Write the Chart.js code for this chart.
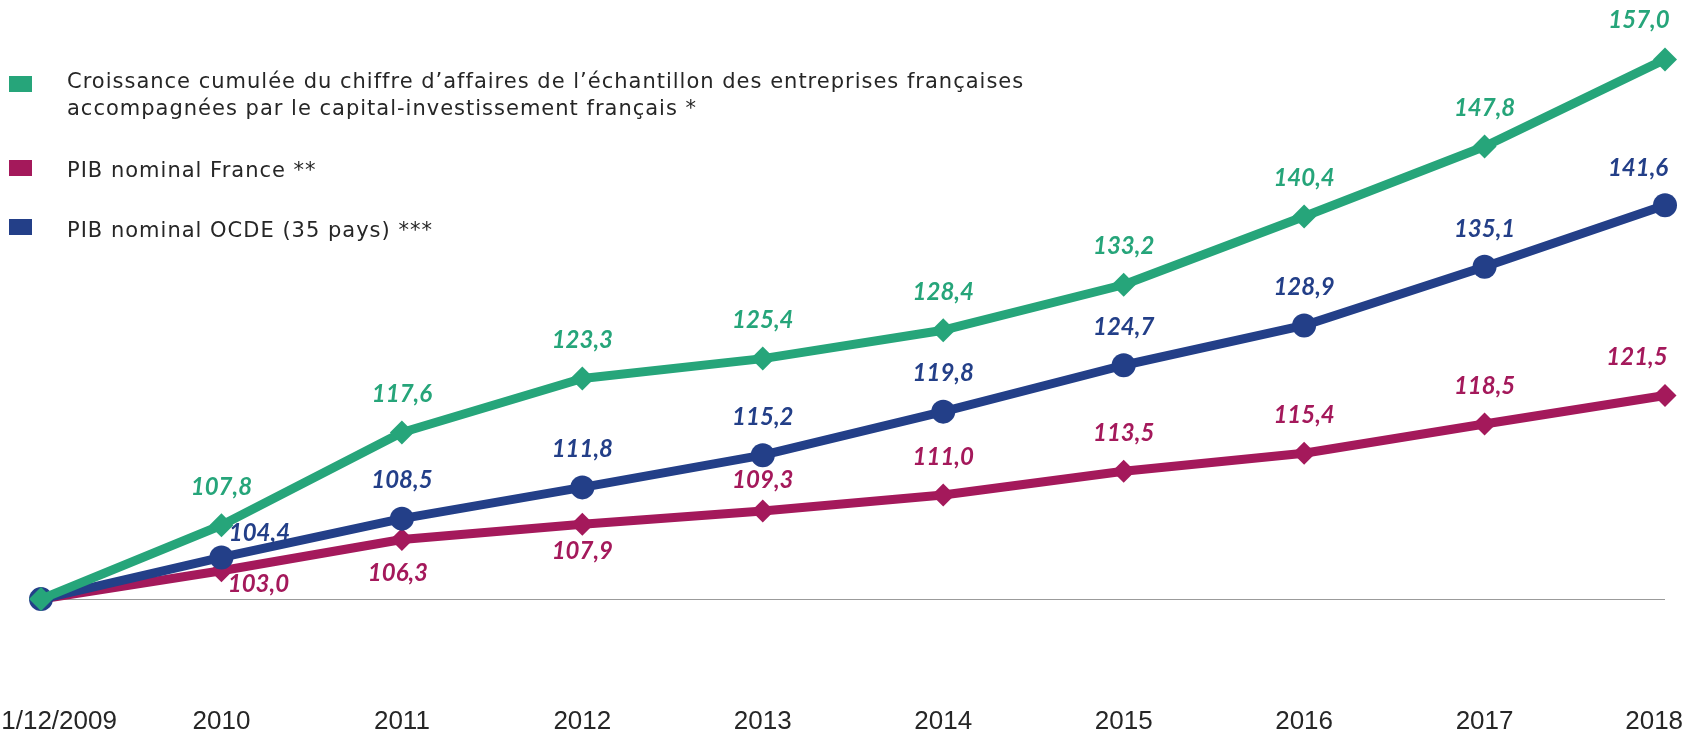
<!DOCTYPE html>
<html>
<head>
<meta charset="utf-8">
<script src="https://cdn.jsdelivr.net/npm/chart.js@4.4.0/dist/chart.umd.min.js"></script>
<style>
  html, body { margin: 0; padding: 0; background: #fff; overflow: hidden; }
  #wrap { position: relative; width: 1698px; height: 735px; overflow: hidden; }
  /* canvas is wider than the page so the plot area lands where the original has it */
  #chart { position: absolute; left: -49px; top: 0; }
  .swatch { position: absolute; left: 9px; width: 23px; height: 16px; }
  .label {
    position: absolute; left: 67px; white-space: nowrap;
    font-family: "DejaVu Sans", sans-serif; font-size: 21px; line-height: 27px;
    letter-spacing: 1px; color: #262626;
  }
</style>
</head>
<body>
<div id="wrap">
  <canvas id="chart" width="1769" height="749"></canvas>

  <div class="swatch" style="top:76px; background:#26a57a;"></div>
  <div class="label" style="top:68px;">Croissance cumulée du chiffre d’affaires de l’échantillon des entreprises françaises<br>accompagnées par le capital-investissement français *</div>

  <div class="swatch" style="top:160px; background:#a4195b;"></div>
  <div class="label" style="top:157px;">PIB nominal France **</div>

  <div class="swatch" style="top:219px; background:#233f88;"></div>
  <div class="label" style="top:217px;">PIB nominal OCDE (35 pays) ***</div>
</div>

<script>
// base 100 au 31/12/2009
const categories = ['31/12/2009', '2010', '2011', '2012', '2013', '2014', '2015', '2016', '2017', '2018'];
const capInvest = [100, 107.8, 117.6, 123.3, 125.4, 128.4, 133.2, 140.4, 147.8, 157.0];
const pibFrance = [100, 103.0, 106.3, 107.9, 109.3, 111.0, 113.5, 115.4, 118.5, 121.5];
const pibOcde   = [100, 104.4, 108.5, 111.8, 115.2, 119.8, 124.7, 128.9, 135.1, 141.6];

const GREEN = '#26a57a';
const RED = '#a4195b';
const BLUE = '#233f88';

// where each value label sits relative to its point (default: centred above)
const ABOVE = [0, -38];
const labelShift = {
  0: { 9: [-26, -39] },
  1: { 1: [37, 14], 2: [-4, 34], 3: [0, 27], 4: [0, -31], 9: [-28, -38] },
  2: { 1: [38, -24], 9: [-27, -37] }
};

const valueLabels = {
  id: 'valueLabels',
  afterDatasetsDraw(chart) {
    const ctx = chart.ctx;
    ctx.save();
    ctx.font = 'italic bold 24px Lato, "Open Sans", sans-serif';
    ctx.textAlign = 'center';
    ctx.textBaseline = 'middle';
    chart.data.datasets.forEach((ds, di) => {
      const meta = chart.getDatasetMeta(di);
      ctx.fillStyle = ds.borderColor;
      meta.data.forEach((pt, i) => {
        if (i === 0) return;
        const off = (labelShift[di] && labelShift[di][i]) || ABOVE;
        const txt = ds.data[i].toFixed(1).replace('.', ',');
        ctx.fillText(txt, pt.x + off[0], pt.y + off[1]);
      });
    });
    ctx.restore();
  }
};

new Chart(document.getElementById('chart'), {
  type: 'line',
  data: {
    labels: categories,
    datasets: [
      {
        label: 'Capital-investissement',
        data: capInvest,
        borderColor: GREEN, backgroundColor: GREEN,
        pointStyle: 'rectRot', pointRadius: 12, pointBorderWidth: 0,
        order: 0
      },
      {
        label: 'PIB nominal France',
        data: pibFrance,
        borderColor: RED, backgroundColor: RED,
        pointStyle: 'rectRot', pointRadius: 11.5, pointBorderWidth: 0,
        order: 2
      },
      {
        label: 'PIB nominal OCDE',
        data: pibOcde,
        borderColor: BLUE, backgroundColor: BLUE,
        pointStyle: 'circle', pointRadius: 12, pointBorderWidth: 0,
        order: 1
      }
    ]
  },
  options: {
    responsive: false,
    animation: false,
    datasets: {
      line: { borderWidth: 9, tension: 0, clip: false, borderJoinStyle: 'round', fill: false }
    },
    layout: { autoPadding: false, padding: { left: 90, right: 55, top: 31, bottom: 0 } },
    plugins: { legend: { display: false }, tooltip: { enabled: false } },
    scales: {
      x: {
        grid: { display: false, drawTicks: false },
        border: { display: false },
        ticks: {
          autoSkip: false, maxRotation: 0, padding: 12, color: '#262626',
          font: { family: '"Liberation Sans", Arial, sans-serif', size: 26 },
          // nudge the edge labels inwards the way the original layout does
          callback: (v, i) => i === 0 ? '   ' + categories[i]
                            : i === categories.length - 1 ? categories[i] + '   '
                            : categories[i]
        }
      },
      y: {
        min: 90, max: 160,
        grid: {
          drawTicks: false, lineWidth: 1,
          color: c => (c.tick && c.tick.value === 100) ? '#9b9b9b' : 'rgba(0,0,0,0)'
        },
        border: { display: false },
        ticks: { display: false, stepSize: 10 }
      }
    }
  },
  plugins: [valueLabels]
});
</script>
</body>
</html>
